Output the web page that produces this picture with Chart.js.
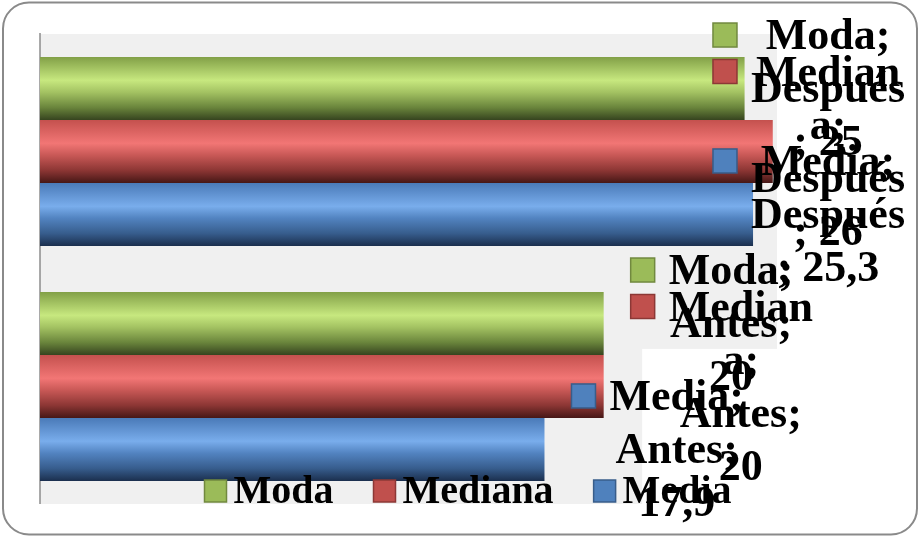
<!DOCTYPE html>
<html>
<head>
<meta charset="utf-8">
<script src="https://cdn.jsdelivr.net/npm/chart.js@4/dist/chart.umd.min.js"></script>
<style>
  html, body { margin: 0; padding: 0; background: #fff; }
  #wrap { position: relative; width: 920px; height: 537px; }
</style>
</head>
<body>
<div id="wrap"><canvas id="chart" width="920" height="537"></canvas></div>
<script>
const categories = ["Después", "Antes"];
const seriesNames = ["Moda", "Mediana", "Media"];
const modaValues = [25, 20];
const medianaValues = [26, 20];
const mediaValues = [25.3, 17.9];
const axisMin = 0;
const axisMax = 26.15;

const seriesColors = ["#9bbb59", "#c0504d", "#4f81bd"];
const seriesBorders = ["#71893f", "#8c3836", "#385d8a"];
// cylinder look: top edge, highlight, mid, shade, bottom edge
const gradStops = [0, 0.37, 0.56, 0.8, 1];
const gradColors = [
  ["#82a047", "#c7e87f", "#a3c262", "#6a853c", "#36441f"],
  ["#c4514e", "#f27675", "#c85856", "#8c3634", "#461716"],
  ["#4a7ab8", "#79adec", "#5283c0", "#375d8d", "#1b2f4e"]
];

const catPct = 0.804;
const labelFont = 'bold 44px "Liberation Serif", "Times New Roman", serif';
const legendFont = 'bold 40px "Liberation Serif", "Times New Roman", serif';
const lineH = 53;

function barFill(ctx) {
  const chart = ctx.chart;
  const area = chart.chartArea;
  const d = ctx.datasetIndex;
  if (!area || ctx.type !== "data" || !chart.scales.y) return seriesColors[d];
  const catSize = (area.bottom - area.top) / categories.length;
  const groupH = catSize * catPct;
  const barH = groupH / seriesNames.length;
  const top = chart.scales.y.getPixelForValue(ctx.dataIndex) - groupH / 2 + d * barH;
  const g = chart.ctx.createLinearGradient(0, top, 0, top + barH);
  gradStops.forEach((s, k) => g.addColorStop(s, gradColors[d][k]));
  return g;
}

function fmt(v) {
  return String(v).replace(".", ",");
}

// greedy wrap, breaks long words by characters (like the office text box)
function wrap(c, text, maxW) {
  const words = text.split(" ");
  const lines = [];
  let line = "";
  words.forEach(w => {
    const cand = line ? line + " " + w : w;
    if (c.measureText(cand).width <= maxW) { line = cand; return; }
    if (line) lines.push(line);
    line = "";
    if (c.measureText(w).width <= maxW) { line = w; return; }
    let piece = "";
    for (const ch of w) {
      if (c.measureText(piece + ch).width > maxW) { lines.push(piece); piece = ch; }
      else piece += ch;
    }
    line = piece;
  });
  if (line) lines.push(line);
  return lines;
}

const backdrop = {
  id: "backdrop",
  beforeDatasetsDraw(chart) {
    const c = chart.ctx;
    const a = chart.chartArea;
    c.save();
    c.fillStyle = "#f0f0f0";
    c.fillRect(a.left, a.top, a.right - a.left, a.bottom - a.top);
    c.fillStyle = "#ffffff";
    const cx = a.left + (a.right - a.left) * 0.817;
    const cy = a.top + (a.bottom - a.top) * 0.67;
    c.fillRect(cx, cy, a.right - cx, a.bottom - cy);
    c.strokeStyle = "#8c8c8c";
    c.lineWidth = 1.5;
    c.beginPath();
    c.moveTo(a.left, a.top - 1);
    c.lineTo(a.left, a.bottom);
    c.stroke();
    c.restore();
  },
  afterDraw(chart) {
    const c = chart.ctx;
    c.save();
    c.strokeStyle = "#8a8a8a";
    c.lineWidth = 2;
    c.beginPath();
    c.roundRect(3, 2.5, chart.width - 6, chart.height - 5, 26);
    c.stroke();
    c.restore();
  }
};

const barLabels = {
  id: "barLabels",
  afterDatasetsDraw(chart) {
    const c = chart.ctx;
    c.save();
    c.font = labelFont;
    c.textAlign = "center";
    c.textBaseline = "alphabetic";
    chart.data.datasets.forEach((ds, d) => {
      chart.getDatasetMeta(d).data.forEach((bar, i) => {
        const text = ds.label + "; " + categories[i] + "; " + fmt(ds.data[i]);
        const lines = wrap(c, text, 160);
        const maxW = Math.max(...lines.map(l => c.measureText(l).width));
        const keyX = Math.min(bar.x + 27, chart.width - 7 - 46 - maxW);
        const top = bar.y - lines.length * lineH / 2;
        c.fillStyle = seriesColors[d];
        c.fillRect(keyX, top + 14, 24, 24);
        c.strokeStyle = seriesBorders[d];
        c.lineWidth = 1.5;
        c.strokeRect(keyX, top + 14, 24, 24);
        c.fillStyle = "#000";
        const tx = keyX + 38 + maxW / 2;
        lines.forEach((l, k) => c.fillText(l, tx, top + 40 + k * lineH));
      });
    });
    c.restore();
  }
};

const bottomLegend = {
  id: "bottomLegend",
  afterDatasetsDraw(chart) {
    const c = chart.ctx;
    c.save();
    c.font = legendFont;
    c.textAlign = "left";
    c.textBaseline = "alphabetic";
    const key = 22, gap = 7, spacing = 40;
    const widths = seriesNames.map(n => key + gap + c.measureText(n).width);
    const total = widths.reduce((s, w) => s + w, 0) + spacing * (seriesNames.length - 1);
    let x = chart.width / 2 + 8 - total / 2;
    const base = 503;
    seriesNames.forEach((n, d) => {
      c.fillStyle = seriesColors[d];
      c.fillRect(x, base - 23, key, key);
      c.strokeStyle = seriesBorders[d];
      c.lineWidth = 1.5;
      c.strokeRect(x, base - 23, key, key);
      c.fillStyle = "#000";
      c.fillText(n, x + key + gap, base);
      x += widths[d] + spacing;
    });
    c.restore();
  }
};

const seriesValues = [modaValues, medianaValues, mediaValues];

new Chart(document.getElementById("chart"), {
  type: "bar",
  data: {
    labels: categories,
    datasets: seriesNames.map((name, d) => ({
      label: name,
      data: seriesValues[d],
      backgroundColor: barFill,
      borderWidth: 0,
      barPercentage: 1,
      categoryPercentage: catPct
    }))
  },
  options: {
    indexAxis: "y",
    responsive: false,
    animation: false,
    layout: { padding: { left: 40, top: 34, right: 143, bottom: 33 } },
    plugins: { legend: { display: false }, tooltip: { enabled: false } },
    scales: {
      x: { type: "linear", min: axisMin, max: axisMax, display: false },
      y: { display: false }
    }
  },
  plugins: [backdrop, barLabels, bottomLegend]
});
</script>
</body>
</html>
